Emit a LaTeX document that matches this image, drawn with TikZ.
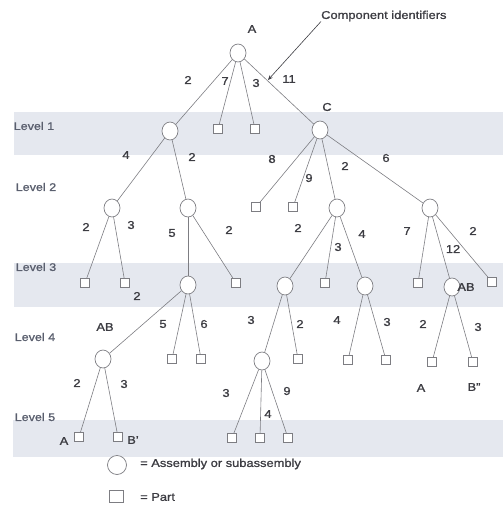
\documentclass[tikz,border=0pt]{standalone}
\usepackage{fontspec}
\setmainfont[FakeStretch=1.14,FakeBold=1.2]{Liberation Sans}
\usetikzlibrary{shapes.geometric,arrows.meta}
\definecolor{txt}{RGB}{60,60,66}
\definecolor{lvl}{RGB}{90,95,110}
\definecolor{band}{RGB}{229,232,239}
\definecolor{edge}{RGB}{125,125,130}
\tikzset{
  asm/.style={draw=edge,line width=0.7pt,ellipse,minimum width=16pt,minimum height=18pt,inner sep=0pt,fill=white},
  prt/.style={draw=edge,line width=0.7pt,rectangle,minimum width=9pt,minimum height=9pt,inner sep=0pt,fill=white},
  lab/.style={text=txt,font=\fontsize{11.3}{13}\selectfont,inner sep=0pt},
  lvlab/.style={text=lvl,font=\fontsize{11}{13}\selectfont,inner sep=0pt},
  con/.style={draw=edge,line width=0.6pt},
  bandbox/.style={fill=band,draw=none}
}
\begin{document}
\begin{tikzpicture}[x=1pt,y=-1pt]
\useasboundingbox (0,0) rectangle (503,506);
% bands
\fill[bandbox] (14,112) rectangle (503,155);
\fill[bandbox] (14,263) rectangle (503,307);
\fill[bandbox] (13,420) rectangle (503,457);
% level labels
\node[lvlab] (lv1) at (34,126) {Level 1};
\node[lvlab] (lv2) at (36,187) {Level 2};
\node[lvlab] (lv3) at (36,267) {Level 3};
\node[lvlab] (lv4) at (35,337) {Level 4};
\node[lvlab] (lv5) at (35,417) {Level 5};
% nodes
\node[asm] (nA) at (238,53) {};
\node[asm] (n1a) at (170,131) {};
\node[prt] (n1b) at (218,129) {};
\node[prt] (n1c) at (255,129) {};
\node[asm] (nC) at (320,130) {};
\node[asm] (n2a) at (112,208) {};
\node[asm] (n2b) at (188,208) {};
\node[prt] (n2c) at (256,207) {};
\node[prt] (n2d) at (293,207) {};
\node[asm] (n2e) at (337,208) {};
\node[asm] (n2f) at (430,208) {};
\node[prt] (n3a) at (85,283) {};
\node[prt] (n3b) at (125,283) {};
\node[asm] (n3c) at (188,285) {};
\node[prt] (n3d) at (236,283) {};
\node[asm] (n3e) at (285,286) {};
\node[prt] (n3f) at (325,283) {};
\node[asm] (n3g) at (365,286) {};
\node[prt] (n3h) at (418,283) {};
\node[asm] (n3i) at (452,287) {};
\node[prt] (n3j) at (492,282) {};
\node[asm] (n4a) at (103,359) {};
\node[prt] (n4b) at (172,359) {};
\node[prt] (n4c) at (201,359) {};
\node[asm] (n4d) at (262,361) {};
\node[prt] (n4e) at (298,359) {};
\node[prt] (n4f) at (348,360) {};
\node[prt] (n4g) at (386,360) {};
\node[prt] (n4h) at (432,362) {};
\node[prt] (n4i) at (473,362) {};
\node[prt] (n5a) at (79,437) {};
\node[prt] (n5b) at (118,437) {};
\node[prt] (n5c) at (232,438) {};
\node[prt] (n5d) at (260,438) {};
\node[prt] (n5e) at (288,438) {};
% connectors
\foreach \p/\c in {nA/n1a,nA/n1b,nA/n1c,nA/nC,
  n1a/n2a,n1a/n2b,nC/n2c,nC/n2d,nC/n2e,nC/n2f,
  n2a/n3a,n2a/n3b,n2b/n3c,n2b/n3d,n2e/n3e,n2e/n3f,n2e/n3g,n2f/n3h,n2f/n3i,n2f/n3j,
  n3c/n4a,n3c/n4b,n3c/n4c,n3e/n4d,n3e/n4e,n3g/n4f,n3g/n4g,n3i/n4h,n3i/n4i,
  n4a/n5a,n4a/n5b,n4d/n5c,n4d/n5d,n4d/n5e}
  \draw[con] (\p) -- (\c);
% component labels
\node[lab] (tA) at (252,29) {A};
\node[lab] (tC) at (327,107) {C};
\node[lab] (tAB1) at (466,287) {AB};
\node[lab] (tAB2) at (105,327) {AB};
\node[lab] (tA2) at (421,388) {A};
\node[lab] (tB2) at (474,387) {B''};
\node[lab] (tA3) at (64,441) {A};
\node[lab] (tB1) at (133,440) {B'};
% quantity labels
\node[lab] (q1) at (188,80) {2};
\node[lab] (q2) at (225,81) {7};
\node[lab] (q3) at (256,83) {3};
\node[lab] (q4) at (289,79) {11};
\node[lab] (q5) at (126,155) {4};
\node[lab] (q6) at (192,157) {2};
\node[lab] (q7) at (272,159) {8};
\node[lab] (q8) at (309,178) {9};
\node[lab] (q9) at (345,166) {2};
\node[lab] (q10) at (386,158) {6};
\node[lab] (q11) at (86,227) {2};
\node[lab] (q12) at (131,225) {3};
\node[lab] (q13) at (172,233) {5};
\node[lab] (q14) at (229,230) {2};
\node[lab] (q15) at (298,228) {2};
\node[lab] (q16) at (338,247) {3};
\node[lab] (q17) at (362,234) {4};
\node[lab] (q18) at (407,231) {7};
\node[lab] (q19) at (453,249) {12};
\node[lab] (q20) at (473,231) {2};
\node[lab] (q21) at (137,296) {2};
\node[lab] (q22) at (163,324) {5};
\node[lab] (q23) at (204,324) {6};
\node[lab] (q24) at (251,320) {3};
\node[lab] (q25) at (300,324) {2};
\node[lab] (q26) at (337,320) {4};
\node[lab] (q27) at (387,322) {3};
\node[lab] (q28) at (423,324) {2};
\node[lab] (q29) at (478,327) {3};
\node[lab] (q30) at (77,383) {2};
\node[lab] (q31) at (124,384) {3};
\node[lab] (q32) at (226,393) {3};
\node[lab] (q33) at (287,391) {9};
\node[lab] (q34) at (268,414) {4};
% component identifiers callout
\node[lab,anchor=west] (ci) at (321,16) {Component identifiers};
\coordinate (ciend) at (268,80);
\draw[draw=txt,line width=0.6pt,-{Stealth[length=5pt,width=4pt]}] (ci.south west) -- (ciend);
% legend
\node[asm,minimum width=19pt,minimum height=19pt] (lgc) at (117,465) {};
\node[lab,anchor=west] (lgct) at (140,464) {= Assembly or subassembly};
\node[prt,minimum width=14pt,minimum height=12pt] (lgs) at (116,496) {};
\node[lab,anchor=west] (lgst) at (140,497) {= Part};
\end{tikzpicture}
\end{document}
